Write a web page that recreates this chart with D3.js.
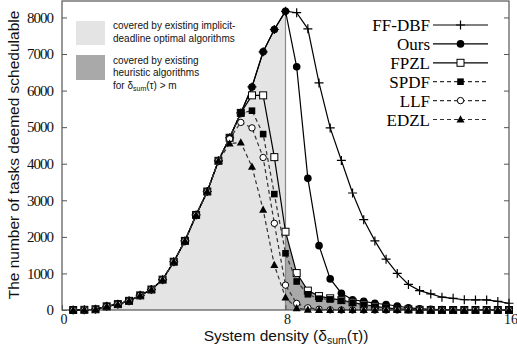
<!DOCTYPE html>
<html>
<head>
<meta charset="utf-8">
<script src="https://cdn.jsdelivr.net/npm/d3@7"></script>
<style>
  body { margin: 0; background: #fff; }
  svg { display: block; }
</style>
</head>
<body>
<div id="viz"></div>
<script>
// system density values sampled in the experiment
var densities = [0.4, 0.8, 1.2, 1.6, 2.0, 2.4, 2.8, 3.2, 3.6, 4.0,
                 4.4, 4.8, 5.2, 5.6, 6.0, 6.4, 6.8, 7.2, 7.6, 8.0,
                 8.4, 8.8, 9.2, 9.6, 10.0, 10.4, 10.8, 11.2, 11.6, 12.0,
                 12.4, 12.8, 13.2, 13.6, 14.0, 14.4, 14.8, 15.2, 15.6, 16.0];

var ffdbf = [0, 5, 20, 100, 160, 250, 400, 560, 830, 1320,
             1890, 2600, 3240, 4080, 4710, 5390, 6100, 7060, 7670, 8170,
             8130, 7690, 6210, 4980, 4090, 3200, 2470, 1890, 1390, 1000,
             700, 530, 440, 350, 320, 280, 275, 275, 235, 185];
var ours = [0, 5, 20, 100, 160, 250, 400, 560, 830, 1320,
            1890, 2600, 3240, 4080, 4710, 5390, 6100, 7060, 7670, 8170,
            6650, 3600, 1760, 850, 460, 280, 235, 185, 150, 110,
            60, 35, 20, 10, 5, 0, 0, 0, 0, 0];
var fpzl = [0, 5, 20, 100, 160, 250, 400, 560, 830, 1320,
            1890, 2600, 3240, 4080, 4710, 5390, 5870, 5870, 4180, 2140,
            1010, 530, 380, 320, 270, 210, 150, 100, 60, 30,
            15, 5, 0, 0, 0, 0, 0, 0, 0, 0];
var spdf = [0, 5, 20, 100, 160, 250, 400, 560, 830, 1320,
            1890, 2600, 3240, 4080, 4710, 5390, 5450, 4810, 3170, 1550,
            780, 430, 310, 290, 255, 200, 140, 90, 50, 25,
            10, 0, 0, 0, 0, 0, 0, 0, 0, 0];
var llf = [0, 5, 20, 100, 160, 250, 400, 560, 830, 1320,
           1890, 2600, 3240, 4080, 4680, 5130, 4980, 4170, 2370, 680,
           180, 60, 20, 5, 0, 0, 0, 0, 0, 0,
           0, 0, 0, 0, 0, 0, 0, 0, 0, 0];
var edzl = [0, 5, 20, 100, 160, 250, 400, 560, 830, 1320,
            1890, 2600, 3240, 4080, 4550, 4580, 3920, 2740, 1230, 340,
            50, 10, 0, 0, 0, 0, 0, 0, 0, 0,
            0, 0, 0, 0, 0, 0, 0, 0, 0, 0];

var seriesNames = ['FF-DBF', 'Ours', 'FPZL', 'SPDF', 'LLF', 'EDZL'];
var yTicks = [0, 1000, 2000, 3000, 4000, 5000, 6000, 7000, 8000];
var xTicks = [0, 8, 16];

var width = 517, height = 354;
var margin = { top: 1, right: 8, bottom: 44, left: 62 };

var svg = d3.select('#viz').append('svg')
    .attr('width', width)
    .attr('height', height);

var xScale = d3.scaleLinear().domain([0, 16]).range([margin.left, width - margin.right]);
var yScale = d3.scaleLinear().domain([0, 8450]).range([height - margin.bottom, margin.top]);

function pts(vals) {
    return densities.map(function (d, i) { return { x: d, y: vals[i] }; });
}

var line = d3.line()
    .x(function (d) { return xScale(d.x); })
    .y(function (d) { return yScale(d.y); });

// shaded regions
var lightPts = [{ x: 0, y: 0 }].concat(pts(ours).filter(function (d) { return d.x <= 8; }), [{ x: 8, y: 0 }]);
svg.append('path')
    .attr('d', line(lightPts) + 'Z')
    .attr('fill', '#e4e4e4');

var darkPts = [{ x: 8, y: 0 }].concat(pts(fpzl).filter(function (d) { return d.x >= 8; }), [{ x: 16, y: 0 }]);
svg.append('path')
    .attr('d', line(darkPts) + 'Z')
    .attr('fill', '#a9a9a9');

svg.append('line')
    .attr('x1', xScale(8)).attr('x2', xScale(8))
    .attr('y1', yScale(0)).attr('y2', yScale(8170))
    .attr('stroke', '#8a8a8a')
    .attr('stroke-width', 1.2);

// frame
svg.append('rect')
    .attr('x', xScale(0)).attr('y', yScale(8450))
    .attr('width', xScale(16) - xScale(0))
    .attr('height', yScale(0) - yScale(8450))
    .attr('fill', 'none')
    .attr('stroke', '#555')
    .attr('stroke-width', 1.2);

var yAxisL = svg.append('g')
    .attr('transform', 'translate(' + xScale(0) + ',0)')
    .call(d3.axisLeft(yScale).tickValues(yTicks).tickSize(-5).tickPadding(9).tickFormat(d3.format('d')));
var yAxisR = svg.append('g')
    .attr('transform', 'translate(' + xScale(16) + ',0)')
    .call(d3.axisRight(yScale).tickValues(yTicks).tickSize(-5).tickFormat(''));
var xAxis = svg.append('g')
    .attr('transform', 'translate(0,' + yScale(0) + ')')
    .call(d3.axisBottom(xScale).tickValues(xTicks).tickSize(-5).tickPadding(4));

[yAxisL, yAxisR, xAxis].forEach(function (g) {
    g.select('.domain').remove();
    g.selectAll('line').attr('stroke', '#555');
    g.selectAll('text')
        .attr('font-family', '"Liberation Serif", serif')
        .attr('font-size', 15)
        .attr('fill', '#111');
});
yAxisL.selectAll('text').attr('letter-spacing', -1);
xAxis.selectAll('text').attr('font-size', 14).attr('dx', 1.5);

// marker shapes
function drawMarker(g, kind, x, y) {
    if (kind === 'plus') {
        g.append('path').attr('d', 'M' + (x - 4.5) + ',' + y + 'H' + (x + 4.5) + 'M' + x + ',' + (y - 4.5) + 'V' + (y + 4.5))
            .attr('stroke', '#000').attr('stroke-width', 1.2);
    } else if (kind === 'dot') {
        g.append('circle').attr('cx', x).attr('cy', y).attr('r', 3.8).attr('fill', '#000');
    } else if (kind === 'osq') {
        g.append('rect').attr('x', x - 3.5).attr('y', y - 3.5).attr('width', 7).attr('height', 7)
            .attr('fill', '#fff').attr('stroke', '#000').attr('stroke-width', 1);
    } else if (kind === 'sq') {
        g.append('rect').attr('x', x - 3.3).attr('y', y - 3.3).attr('width', 6.6).attr('height', 6.6).attr('fill', '#000');
    } else if (kind === 'ocirc') {
        g.append('circle').attr('cx', x).attr('cy', y).attr('r', 3.2)
            .attr('fill', '#fff').attr('stroke', '#000').attr('stroke-width', 1);
    } else if (kind === 'tri') {
        g.append('path').attr('d', 'M' + x + ',' + (y - 4.2) + 'L' + (x + 4) + ',' + (y + 3) + 'L' + (x - 4) + ',' + (y + 3) + 'Z')
            .attr('fill', '#000');
    }
}

var series = [
    { name: seriesNames[0], vals: ffdbf, marker: 'plus', dash: null },
    { name: seriesNames[1], vals: ours, marker: 'dot', dash: null },
    { name: seriesNames[2], vals: fpzl, marker: 'osq', dash: null },
    { name: seriesNames[3], vals: spdf, marker: 'sq', dash: '4,3' },
    { name: seriesNames[4], vals: llf, marker: 'ocirc', dash: '4,3' },
    { name: seriesNames[5], vals: edzl, marker: 'tri', dash: '4,3' }
];

series.forEach(function (s) {
    var g = svg.append('g');
    g.append('path')
        .datum(pts(s.vals))
        .attr('d', line)
        .attr('fill', 'none')
        .attr('stroke', s.dash ? '#333' : '#000')
        .attr('stroke-width', 1.2)
        .attr('stroke-dasharray', s.dash);
    pts(s.vals).forEach(function (d) {
        drawMarker(g, s.marker, xScale(d.x), yScale(d.y));
    });
});

// key, top right
var key = svg.append('g');
series.forEach(function (s, i) {
    var cy = 25 + i * 18.9;
    key.append('text')
        .attr('x', 430).attr('y', cy + 6)
        .attr('text-anchor', 'end')
        .attr('font-family', '"Liberation Serif", serif')
        .attr('font-size', 17)
        .text(s.name);
    key.append('line')
        .attr('x1', 433).attr('x2', 488)
        .attr('y1', cy).attr('y2', cy)
        .attr('stroke', s.dash ? '#333' : '#000')
        .attr('stroke-width', 1.2)
        .attr('stroke-dasharray', s.dash);
    drawMarker(key, s.marker, 460.5, cy);
});

// shaded area key, top left
var sans = '"Liberation Sans", Arial, sans-serif';
svg.append('rect').attr('x', 76).attr('y', 21).attr('width', 29).attr('height', 24).attr('fill', '#e4e4e4');
svg.append('rect').attr('x', 76).attr('y', 55).attr('width', 29).attr('height', 25).attr('fill', '#a9a9a9');

function note(y, str) {
    return svg.append('text').attr('x', 113).attr('y', y)
        .attr('font-family', sans).attr('font-size', 10).attr('fill', '#111').text(str);
}
note(29, 'covered by existing implicit-');
note(41.5, 'deadline optimal algorithms');
note(63.5, 'covered by existing');
note(76, 'heuristic algorithms');
var t = note(88.5, 'for δ');
t.append('tspan').attr('font-size', 7).attr('dy', 2).text('sum');
t.append('tspan').attr('dy', -2).text('(τ) > m');

// axis titles
svg.append('text')
    .attr('transform', 'translate(19,155) rotate(-90)')
    .attr('text-anchor', 'middle')
    .attr('font-family', sans)
    .attr('font-size', 15.5)
    .attr('fill', '#111')
    .text('The number of tasks deemed schedulable');

var xt = svg.append('text')
    .attr('x', 286).attr('y', 341)
    .attr('text-anchor', 'middle')
    .attr('font-family', sans)
    .attr('font-size', 15.5)
    .attr('fill', '#111');
xt.append('tspan').text('System density (δ');
xt.append('tspan').attr('font-size', 10.5).attr('dy', 3).text('sum');
xt.append('tspan').attr('dy', -3).text('(τ))');
</script>
</body>
</html>
